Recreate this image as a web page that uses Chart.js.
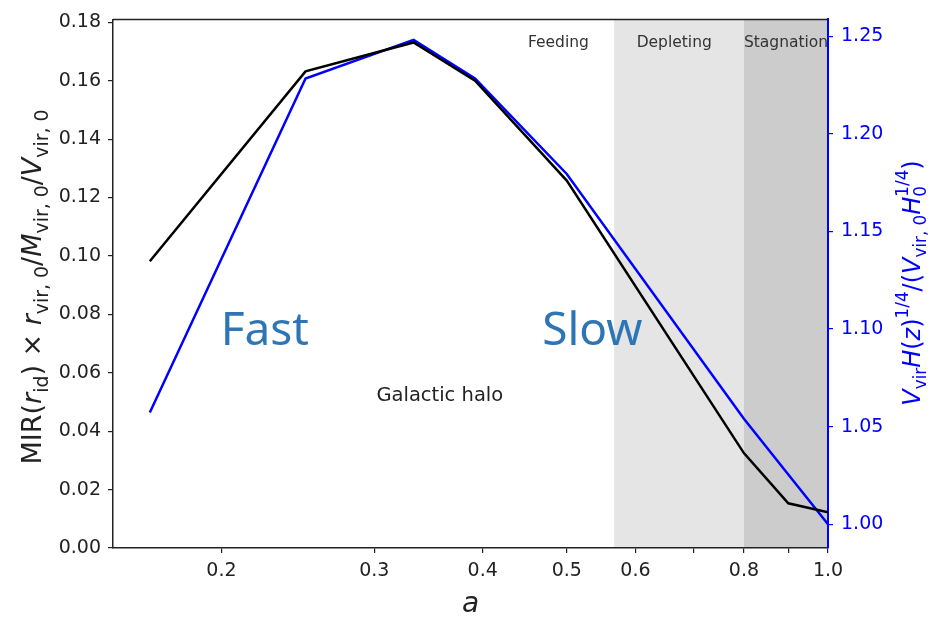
<!DOCTYPE html>
<html lang="en">
<head>
<meta charset="UTF-8">
<title>MIR vs a</title>
<script src="https://cdn.jsdelivr.net/npm/chart.js"></script>
<style>
    html, body { margin: 0; padding: 0; background: #fff; }
    #wrap { width: 933px; height: 618px; }
</style>
</head>
<body>
<div id="wrap">
    <canvas id="mirChart" width="933" height="618"></canvas>
</div>
<script>
// scale factor a of each snapshot
var aValues = [0.1654, 0.25, 0.333, 0.392, 0.5, 0.8, 0.9, 1.0];
// MIR(r_id) * r_vir,0 / M_vir,0 / V_vir,0  (left axis)
var mirValues = [0.0982, 0.1632, 0.1731, 0.1600, 0.1258, 0.0325, 0.0153, 0.0122];
// V_vir H(z)^1/4 / (V_vir,0 H_0^1/4)  (right axis)
var vnormValues = [1.0572, 1.2283, 1.2481, 1.2283, 1.1794, 1.0540, 1.0255, 1.0000];

var xTickValues = [0.2, 0.3, 0.4, 0.5, 0.6, 0.7, 0.8, 0.9, 1.0];
var xTickLabels = ['0.2', '0.3', '0.4', '0.5', '0.6', '', '0.8', '', '1.0'];
var leftTicks = [0, 0.02, 0.04, 0.06, 0.08, 0.10, 0.12, 0.14, 0.16, 0.18];
var rightTicks = [1.00, 1.05, 1.10, 1.15, 1.20, 1.25];

// accretion phases (a ranges)
var phaseNames = ['Feeding', 'Depleting', 'Stagnation'];
var phaseStart = [0.15, 0.567, 0.8];
var phaseEnd = [0.567, 0.8, 1.0];

var FONT = '"DejaVu Sans", sans-serif';

function pts(ys) {
    return aValues.map(function (a, i) { return { x: a, y: ys[i] }; });
}

// draws a line of text with italic / sub / superscript pieces, centred on (x, y)
function richText(ctx, parts, x, y, size, color, rotated) {
    var small = size * 0.7;
    function fontOf(p, s) { return (p.it ? 'italic ' : '') + s + 'px ' + FONT; }
    var total = 0;
    parts.forEach(function (p) {
        if (p.stack) {
            ctx.font = small + 'px ' + FONT;
            p.w = Math.max(ctx.measureText(p.stack[0]).width, ctx.measureText(p.stack[1]).width);
        } else {
            ctx.font = fontOf(p, (p.sub || p.sup) ? small : size);
            p.w = ctx.measureText(p.t).width;
        }
        total += p.w;
    });
    ctx.save();
    ctx.translate(x, y);
    if (rotated) ctx.rotate(-Math.PI / 2);
    ctx.fillStyle = color;
    ctx.textBaseline = 'alphabetic';
    ctx.textAlign = 'left';
    var cx = -total / 2;
    parts.forEach(function (p) {
        if (p.stack) {
            ctx.font = small + 'px ' + FONT;
            ctx.fillText(p.stack[0], cx, size * 0.25);
            ctx.fillText(p.stack[1], cx, -size * 0.48);
        } else {
            ctx.font = fontOf(p, (p.sub || p.sup) ? small : size);
            var dy = p.sub ? size * 0.25 : (p.sup ? -size * 0.48 : 0);
            ctx.fillText(p.t, cx, dy);
        }
        cx += p.w;
    });
    ctx.restore();
}

var decorPlugin = {
    id: 'decor',
    beforeDraw: function (chart) {
        var ctx = chart.ctx, area = chart.chartArea, xs = chart.scales.x;
        var fills = ['rgba(0,0,0,0)', '#e5e5e5', '#cccccc'];
        ctx.save();
        for (var i = 0; i < phaseNames.length; i++) {
            var x0 = xs.getPixelForValue(phaseStart[i]);
            var x1 = xs.getPixelForValue(phaseEnd[i]);
            ctx.fillStyle = fills[i];
            ctx.fillRect(x0, area.top, x1 - x0, area.bottom - area.top);
        }
        ctx.restore();
    },
    afterDraw: function (chart) {
        var ctx = chart.ctx, area = chart.chartArea;
        var xs = chart.scales.x, ys = chart.scales.y;

        // top spine
        ctx.save();
        ctx.strokeStyle = '#222';
        ctx.lineWidth = 1.5;
        ctx.beginPath();
        ctx.moveTo(area.left, area.top);
        ctx.lineTo(area.right, area.top);
        ctx.stroke();

        // phase labels
        ctx.fillStyle = '#333';
        ctx.font = '15.5px ' + FONT;
        ctx.textBaseline = 'middle';
        ctx.textAlign = 'center';
        ctx.fillText(phaseNames[0], xs.getPixelForValue(0.489), ys.getPixelForValue(0.1728));
        ctx.fillText(phaseNames[1], xs.getPixelForValue(0.665), ys.getPixelForValue(0.1728));
        ctx.textAlign = 'left';
        ctx.fillText(phaseNames[2], xs.getPixelForValue(0.8), ys.getPixelForValue(0.1728));

        ctx.textAlign = 'center';
        ctx.fillStyle = '#222';
        ctx.font = '19.5px ' + FONT;
        ctx.fillText('Galactic halo', xs.getPixelForValue(0.357), ys.getPixelForValue(0.0522));

        ctx.fillStyle = '#2e75b6';
        ctx.font = '46px "Noto Sans", sans-serif';
        ctx.fillText('Fast', xs.getPixelForValue(0.2244), ys.getPixelForValue(0.0739));
        ctx.fillText('Slow', xs.getPixelForValue(0.535), ys.getPixelForValue(0.0739));
        ctx.restore();

        // axis titles
        richText(ctx, [
            { t: 'MIR(' }, { t: 'r', it: true }, { t: 'id', sub: true }, { t: ') \u00d7 ' },
            { t: 'r', it: true }, { t: 'vir, 0', sub: true }, { t: '/' },
            { t: 'M', it: true }, { t: 'vir, 0', sub: true }, { t: '/' },
            { t: 'V', it: true }, { t: 'vir, 0', sub: true }
        ], 41, 287, 27, '#222', true);

        richText(ctx, [
            { t: 'V', it: true }, { t: 'vir', sub: true }, { t: 'H', it: true }, { t: '(' },
            { t: 'z', it: true }, { t: ')' }, { t: '1/4', sup: true }, { t: '/(' },
            { t: 'V', it: true }, { t: 'vir, 0', sub: true }, { t: 'H', it: true },
            { stack: ['0', '1/4'] }, { t: ')' }
        ], 920, 283, 24, '#0000ff', true);

        richText(ctx, [{ t: 'a', it: true }], (area.left + area.right) / 2, 612, 28, '#222', false);
    }
};

var ctx = document.getElementById('mirChart').getContext('2d');
var mirChart = new Chart(ctx, {
    type: 'line',
    data: {
        datasets: [{
            label: 'MIR',
            data: pts(mirValues),
            borderColor: '#000000',
            borderWidth: 2.5,
            pointRadius: 0,
            tension: 0,
            fill: false,
            yAxisID: 'y'
        }, {
            label: 'Vnorm',
            data: pts(vnormValues),
            borderColor: '#0000ff',
            borderWidth: 2.5,
            pointRadius: 0,
            tension: 0,
            fill: false,
            yAxisID: 'y1'
        }]
    },
    options: {
        responsive: false,
        animation: false,
        devicePixelRatio: 1,
        layout: { padding: { top: 15, left: 0, right: 0, bottom: 0 } },
        plugins: { legend: { display: false }, tooltip: { enabled: false } },
        scales: {
            x: {
                type: 'logarithmic',
                min: 0.15,
                max: 1.0,
                afterBuildTicks: function (s) { s.ticks = xTickValues.map(function (v) { return { value: v }; }); },
                afterFit: function (s) { s.height = 70; },
                ticks: {
                    autoSkip: false, maxRotation: 0, padding: 7,
                    color: '#222', font: { family: FONT, size: 19 },
                    callback: function (v, i) { return xTickLabels[i]; }
                },
                grid: { display: true, drawOnChartArea: false, drawTicks: true, tickLength: 5, color: '#222', lineWidth: 1.2 },
                border: { display: true, color: '#222', width: 1.5 }
            },
            y: {
                position: 'left',
                min: 0,
                max: 0.181,
                afterBuildTicks: function (s) { s.ticks = leftTicks.map(function (v) { return { value: v }; }); },
                afterFit: function (s) { s.width = 113; },
                ticks: {
                    padding: 7, color: '#222', font: { family: FONT, size: 19 },
                    callback: function (v) { return v.toFixed(2); }
                },
                grid: { display: true, drawOnChartArea: false, drawTicks: true, tickLength: 5, color: '#222', lineWidth: 1.2 },
                border: { display: true, color: '#222', width: 1.5 }
            },
            y1: {
                position: 'right',
                min: 0.9878,
                max: 1.2586,
                afterBuildTicks: function (s) { s.ticks = rightTicks.map(function (v) { return { value: v }; }); },
                afterFit: function (s) { s.width = 105; },
                ticks: {
                    padding: 8, color: '#0000ff', font: { family: FONT, size: 19 },
                    callback: function (v) { return v.toFixed(2); }
                },
                grid: { display: true, drawOnChartArea: false, drawTicks: true, tickLength: 5, color: '#0000ff', lineWidth: 1.2 },
                border: { display: true, color: '#0000ff', width: 2 }
            }
        }
    },
    plugins: [decorPlugin]
});
</script>
</body>
</html>
